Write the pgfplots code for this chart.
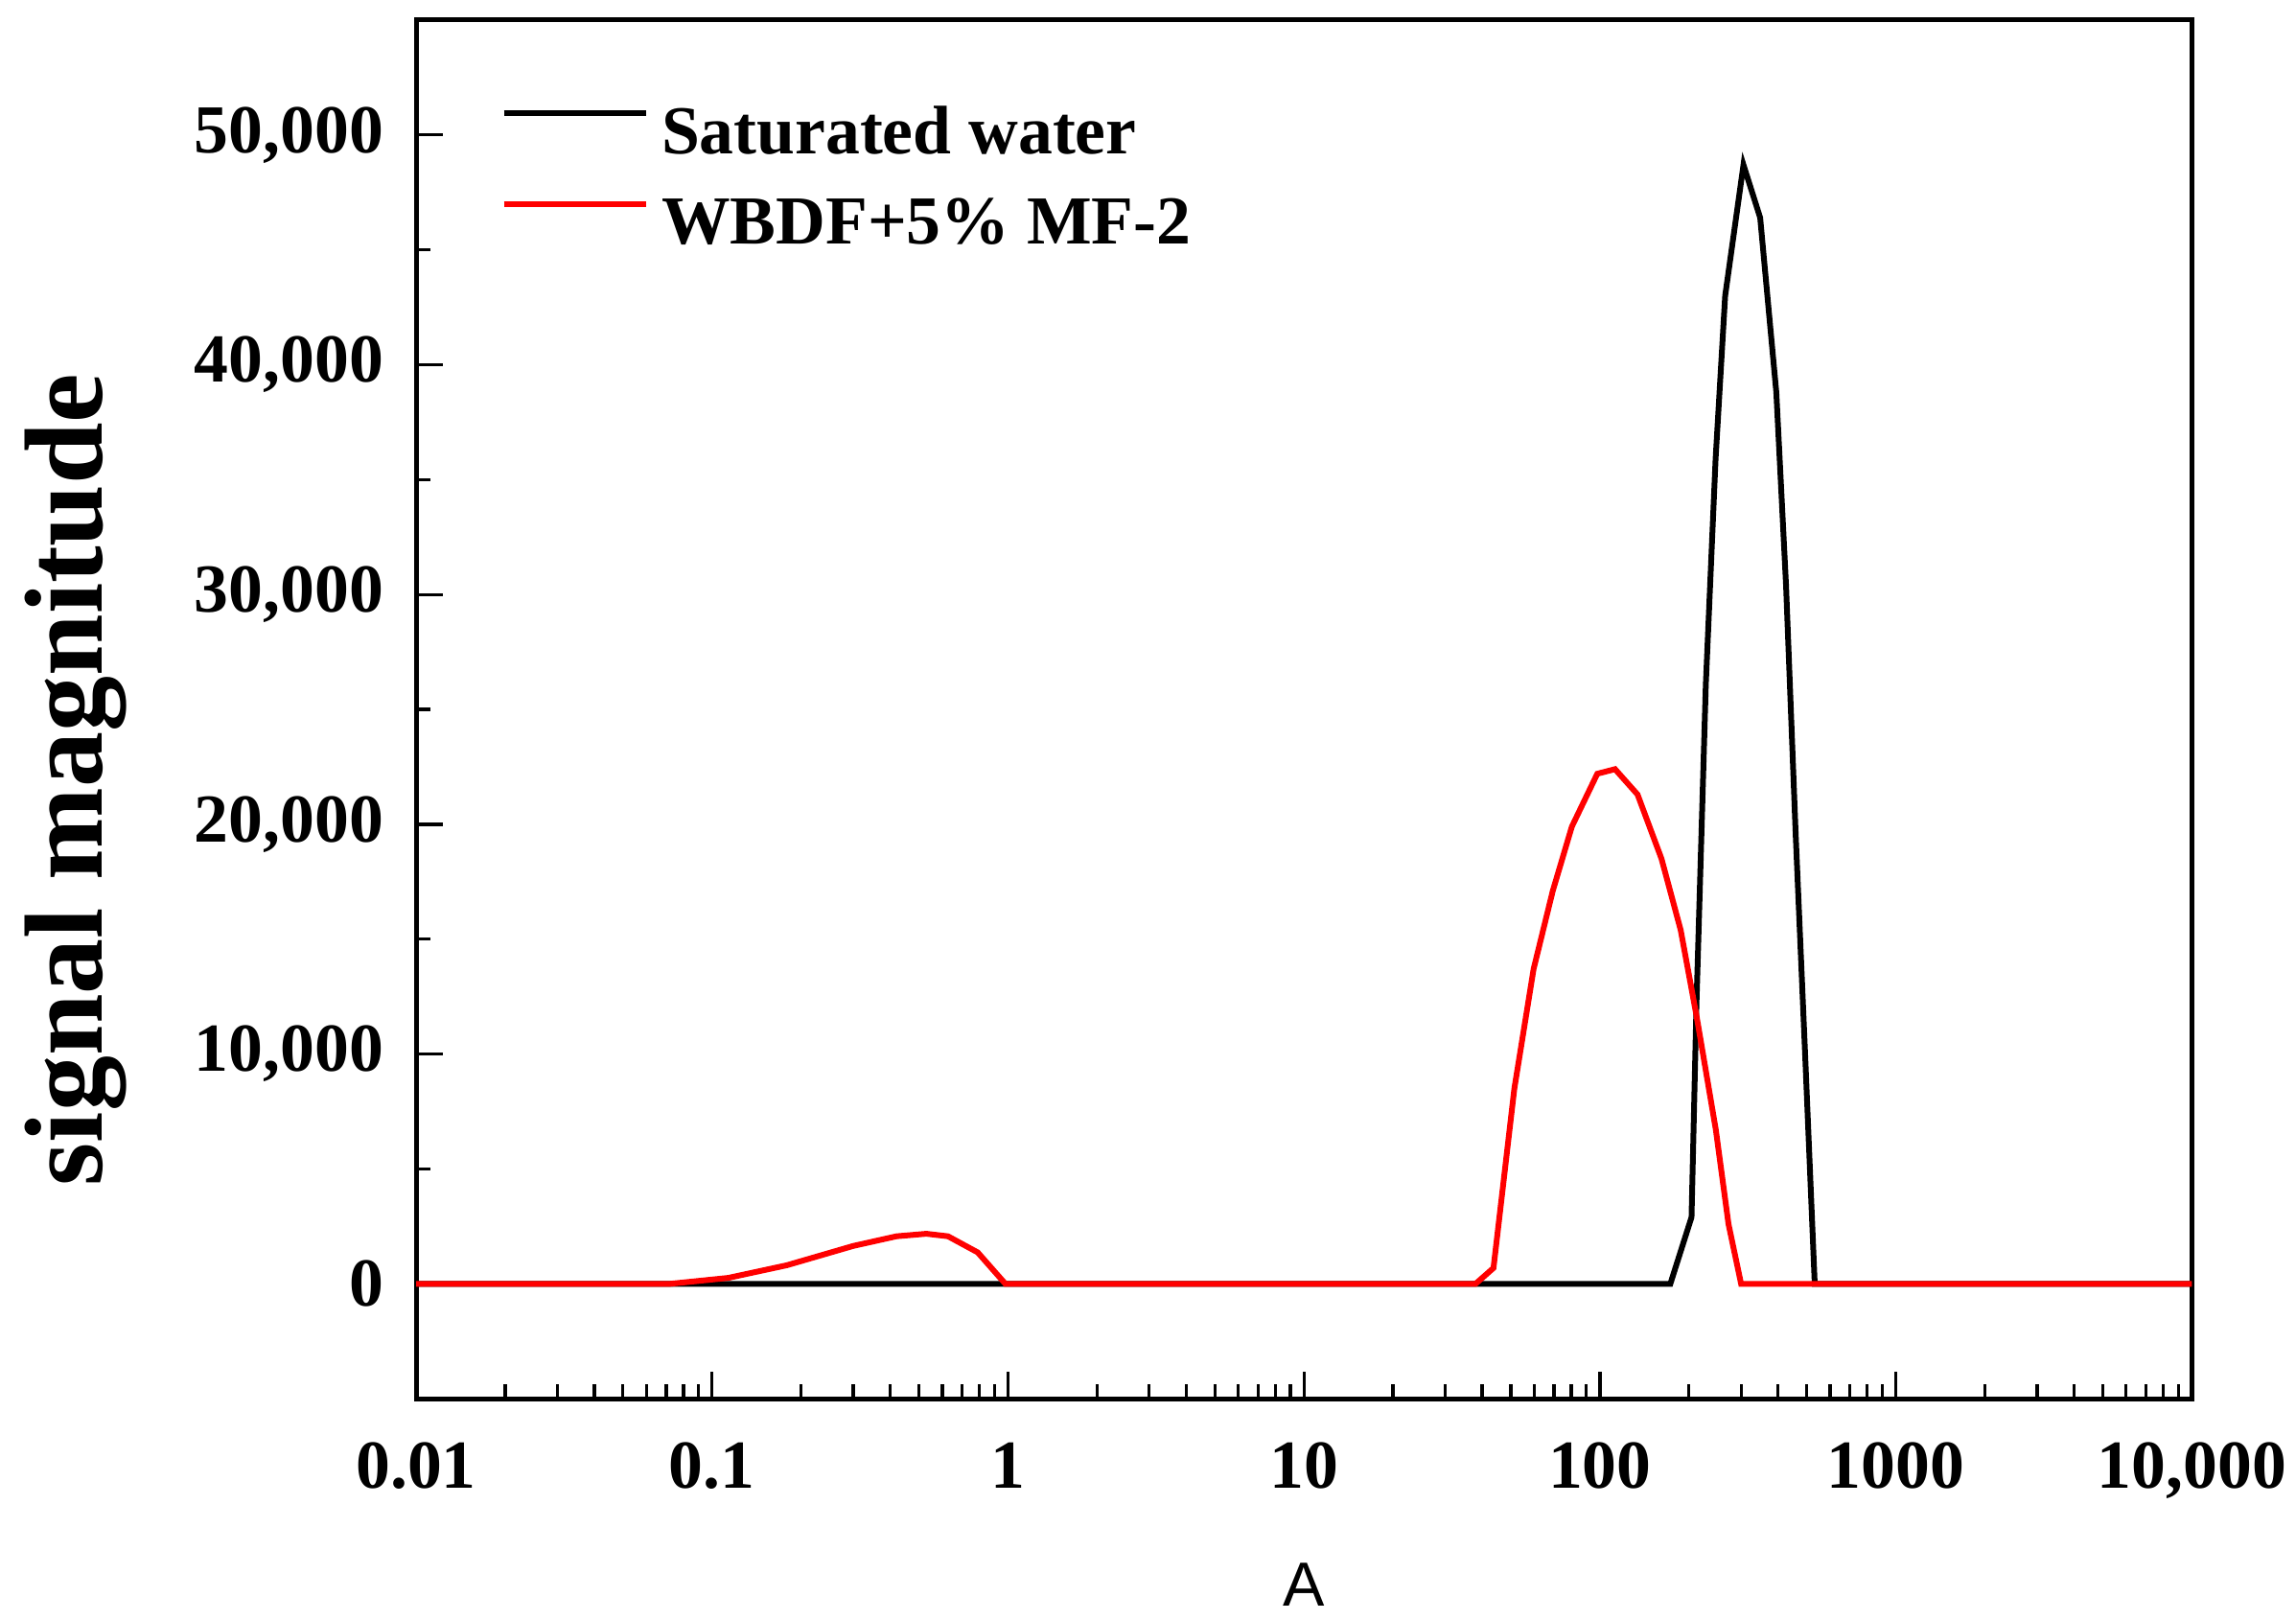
\documentclass[border=0pt]{standalone}
\usepackage{fontspec}
\setmainfont{Liberation Serif}
\newfontfamily\labelsans{Liberation Sans}
\usepackage{pgfplots}
\pgfplotsset{compat=1.18}

\begin{document}
\begin{tikzpicture}
\begin{axis}[
    scale only axis,
    width=555.6pt, height=431.4pt,
    xmode=log, log basis x=10,
    xmin=0.01, xmax=10000,
    ymin=-5000, ymax=55000,
    axis line style={line width=1.5pt},
    xtick pos=bottom, ytick pos=left,
    tick align=inside,
    tick style={line width=1pt, black},
    major tick length=8.5pt, minor tick length=4.5pt,
    xtick={0.01,0.1,1,10,100,1000,10000},
    xticklabels={0.01,0.1,1,10,100,1000,{10,000}},
    minor xtick={0.02,0.03,0.04,0.05,0.06,0.07,0.08,0.09,
                 0.2,0.3,0.4,0.5,0.6,0.7,0.8,0.9,
                 2,3,4,5,6,7,8,9,
                 20,30,40,50,60,70,80,90,
                 200,300,400,500,600,700,800,900,
                 2000,3000,4000,5000,6000,7000,8000,9000},
    scaled y ticks=false,
    ytick={0,10000,20000,30000,40000,50000},
    yticklabels={0,{10,000},{20,000},{30,000},{40,000},{50,000}},
    minor ytick={5000,15000,25000,35000,45000},
    /pgf/number format/assume math mode=true,
    tick label style={font=\fontsize{21.5}{25}\selectfont\bfseries, inner sep=0pt},
    xticklabel style={anchor=north, yshift=-13.5pt},
    yticklabel style={anchor=east, xshift=-10pt},
    xlabel={A},
    xlabel style={font=\labelsans\fontsize{19.5}{22}\selectfont, at={(axis description cs:0.5,-0.135)}, anchor=center},
    ylabel={signal magnitude},
    ylabel style={font=\fontsize{34.8}{40}\selectfont\bfseries, at={(axis description cs:-0.1917,0.449)}, anchor=center},
    legend cell align=left,
    legend image code/.code={\draw[#1] (0pt,7.5pt) -- (44.4pt,7.5pt);},
    legend style={at={(axis description cs:0.0475,0.9385)}, anchor=north west,
        draw=none, fill=none, inner sep=0pt, row sep=8.4pt,
        font=\fontsize{21.5}{25}\selectfont\bfseries,
        nodes={inner sep=0pt, text height=15pt, text depth=5pt},
        /tikz/every odd column/.append style={column sep=4pt}},
]
\addplot[black, line width=1.8pt] coordinates {
    (0.01,0) (173,0) (204,2900) (212,12200) (228,26100) (246,35900) (265,43000)
    (305.6,48700) (348,46400) (394.6,38800) (425.6,30400) (458.6,19600)
    (494,9900) (532,0) (10000,0)
};
\addlegendentry{Saturated water}
\addplot[red, line width=1.8pt] coordinates {
    (0.01,0) (0.072,0) (0.1135,260) (0.179,810) (0.30,1650) (0.42,2070)
    (0.53,2180) (0.627,2070) (0.79,1370) (0.98,0) (38,0) (43.7,690)
    (51.4,8500) (59.7,13700) (69.3,17100) (80.4,19900) (98,22200)
    (112.5,22400) (134,21300) (161.5,18500) (187.5,15400) (212.5,11600)
    (246.5,6700) (272,2600) (300,0) (10000,0)
};
\addlegendentry{WBDF+5\% MF-2}
\end{axis}
\path ([xshift=-130.2pt,yshift=-69pt]current axis.south west) rectangle ([xshift=32.6pt,yshift=6.3pt]current axis.north east);
\end{tikzpicture}
\end{document}
